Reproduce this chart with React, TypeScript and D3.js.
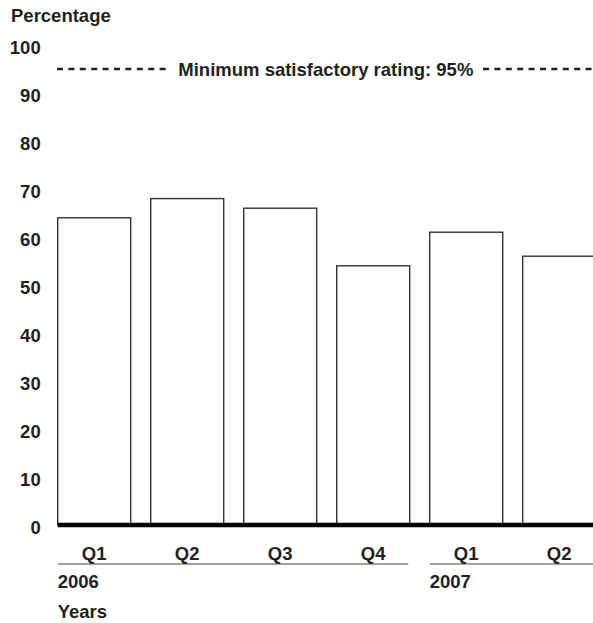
import React from "react";
import * as d3 from "d3";

const quarters = ["Q1", "Q2", "Q3", "Q4", "Q1", "Q2"];
const years = ["2006", "2006", "2006", "2006", "2007", "2007"];
const values = [64, 68, 66, 54, 61, 56];
const yTicks = [0, 10, 20, 30, 40, 50, 60, 70, 80, 90, 100];
const target = 95;
const targetLabel = "Minimum satisfactory rating: 95%";

const W = 593;
const H = 623;
const FONT = "'Liberation Sans', Arial, Helvetica, sans-serif";
const TXT = "#231f20";

export default function App() {
  const idx = values.map((_, i) => i);
  const x = d3
    .scaleBand<number>()
    .domain(idx)
    .range([57.7, 57.7 + 6 * 93 - 20])
    .paddingInner(20 / 93)
    .paddingOuter(0);
  const y = d3.scaleLinear().domain([0, 100]).range([525, 45]);

  const groups = Array.from(new Set(years)).map((yr) => {
    const ids = idx.filter((i) => years[i] === yr);
    return {
      yr,
      x0: x(ids[0])!,
      x1: x(ids[ids.length - 1])! + x.bandwidth(),
    };
  });

  const yT = y(target);
  const labelX0 = 178.3;
  const labelX1 = 474;

  return (
    <svg
      width={W}
      height={H}
      style={{ position: "absolute", left: 0, top: 0, background: "#fff" }}
      fontFamily={FONT}
      fontWeight="bold"
      fontSize={18.5}
      fill={TXT}
    >
      <text x={11} y={22}>Percentage</text>
      {yTicks.map((t) => (
        <text key={t} x={40.7} y={y(t) + 8.5} textAnchor="end">
          {t}
        </text>
      ))}
      {/* target line */}
      <line
        x1={57} x2={labelX0 - 8} y1={yT} y2={yT}
        stroke={TXT} strokeWidth={2.4} strokeDasharray="6,5.4"
      />
      <text x={labelX0} y={yT + 7}>{targetLabel}</text>
      <line
        x1={labelX1 + 9} x2={W} y1={yT} y2={yT}
        stroke={TXT} strokeWidth={2.4} strokeDasharray="6,5.4"
      />
      {/* bars */}
      {values.map((v, i) => (
        <rect
          key={i}
          x={x(i)!}
          y={y(v)}
          width={x.bandwidth()}
          height={y(0) - y(v)}
          fill="#fff"
          stroke="#333"
          strokeWidth={1.4}
        />
      ))}
      <line x1={57.7} x2={W} y1={y(0)} y2={y(0)} stroke="#000" strokeWidth={4.5} />
      {quarters.map((q, i) => (
        <text key={i} x={x(i)! + x.bandwidth() / 2} y={560} textAnchor="middle">
          {q}
        </text>
      ))}
      {groups.map((g) => (
        <g key={g.yr}>
          <line x1={g.x0} x2={g.x1 - 1.5} y1={564} y2={564} stroke="#444" strokeWidth={1.2} />
          <text x={g.x0} y={588}>{g.yr}</text>
        </g>
      ))}
      <text x={57.7} y={618}>Years</text>
    </svg>
  );
}
